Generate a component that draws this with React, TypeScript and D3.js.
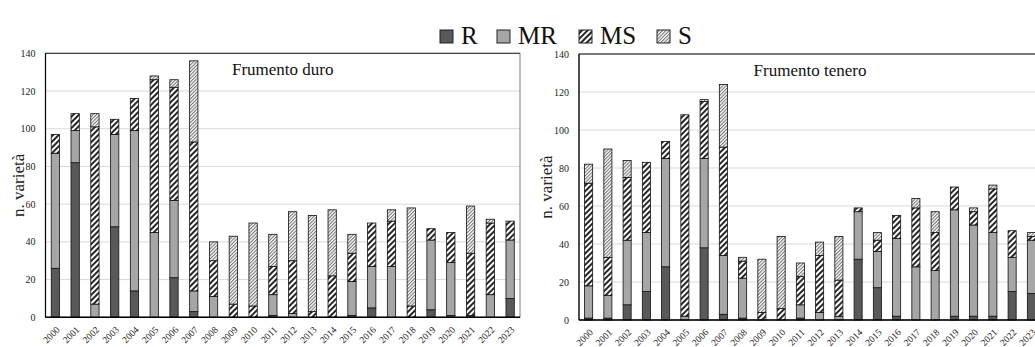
import React from "react";
import * as d3 from "d3";

// anni e classi di resistenza
const years = d3.range(2000, 2024).map(String);
const classes = ["R", "MR", "MS", "S"];

// Frumento duro
const duroR = [26, 82, 0, 48, 14, 0, 21, 3, 0, 0, 0, 1, 0, 0, 0, 1, 5, 0, 0, 4, 1, 1, 0, 10];
const duroMR = [61, 17, 7, 49, 85, 45, 41, 11, 11, 0, 0, 11, 2, 0, 0, 18, 22, 27, 0, 37, 28, 0, 12, 31];
const duroMS = [10, 9, 94, 8, 17, 81, 60, 79, 19, 7, 6, 15, 28, 3, 22, 15, 23, 24, 6, 6, 16, 33, 38, 10];
const duroS = [0, 0, 7, 0, 0, 2, 4, 43, 10, 36, 44, 17, 26, 51, 35, 10, 0, 6, 52, 0, 0, 25, 2, 0];

// Frumento tenero
const teneroR = [1, 1, 8, 15, 28, 0, 38, 3, 1, 0, 0, 1, 0, 0, 32, 17, 2, 0, 0, 2, 2, 2, 15, 14];
const teneroMR = [17, 12, 34, 31, 57, 2, 47, 31, 21, 0, 0, 7, 4, 2, 25, 19, 41, 28, 26, 56, 48, 44, 18, 28];
const teneroMS = [54, 20, 33, 37, 9, 106, 30, 57, 9, 4, 6, 15, 30, 19, 2, 6, 12, 31, 20, 12, 7, 23, 14, 2];
const teneroS = [10, 57, 9, 0, 0, 0, 1, 33, 2, 28, 38, 7, 7, 23, 0, 4, 0, 5, 11, 0, 2, 2, 0, 2];

const yTicks = [0, 20, 40, 60, 80, 100, 120, 140];

const fills: Record<string, string> = {
  R: "#595959",
  MR: "#a6a6a6",
  MS: "url(#pat-ms)",
  S: "url(#pat-s)",
};

const FONT = "'Liberation Serif', 'Times New Roman', serif";

function toRows(r: number[], mr: number[], ms: number[], s: number[]) {
  return years.map((y, i) => ({ year: y, R: r[i], MR: mr[i], MS: ms[i], S: s[i] }));
}

interface PanelProps {
  rows: { year: string; [k: string]: any }[];
  x0: number;
  x1: number;
  yTop: number;
  yBot: number;
  title: string;
  labelX: number;
}

const Panel: React.FC<PanelProps> = ({ rows, x0, x1, yTop, yBot, title, labelX }) => {
  const x = d3.scaleBand().domain(years).range([x0, x1]).paddingInner(0.58).paddingOuter(0.29);
  const y = d3.scaleLinear().domain([0, 140]).range([yBot, yTop]);
  const series = d3.stack<any>().keys(classes)(rows);
  const bw = x.bandwidth();

  return (
    <g>
      {/* griglia */}
      {yTicks.filter((t) => t > 0 && t < 140).map((t) => (
        <line key={t} x1={x0} x2={x1} y1={y(t)} y2={y(t)} stroke="#d9d9d9" strokeWidth={1} />
      ))}
      <rect x={x0} y={yTop} width={x1 - x0} height={yBot - yTop} fill="none" stroke="#7f7f7f" strokeWidth={1} />
      <line x1={x0} x2={x1} y1={yTop} y2={yTop} stroke="#333" strokeWidth={1} />

      {/* barre */}
      {series.map((s) => (
        <g key={s.key}>
          {s.map((d, i) =>
            d[1] - d[0] > 0 ? (
              <rect
                key={i}
                x={x(years[i])!}
                y={y(d[1])}
                width={bw}
                height={y(d[0]) - y(d[1])}
                fill={fills[s.key]}
                stroke="#111"
                strokeWidth={0.8}
              />
            ) : null
          )}
        </g>
      ))}

      {/* assi */}
      <line x1={x0} x2={x0} y1={yTop} y2={yBot} stroke="#000" strokeWidth={1.2} />
      <line x1={x0} x2={x1} y1={yBot} y2={yBot} stroke="#000" strokeWidth={1.4} />

      {yTicks.map((t) => (
        <text key={t} x={x0 - 10} y={y(t)} dy="0.35em" textAnchor="end" fontSize={10} fontFamily={FONT} fill="#222">
          {t}
        </text>
      ))}
      {years.map((yr) => {
        const cx = x(yr)! + bw / 2 + 5;
        const cy = yBot + 13;
        return (
          <text
            key={yr}
            x={cx}
            y={cy}
            textAnchor="end"
            fontSize={9.5}
            fontFamily={FONT}
            fill="#222"
            transform={`rotate(-45,${cx},${cy})`}
          >
            {yr}
          </text>
        );
      })}

      <text
        x={labelX}
        y={(yTop + yBot) / 2}
        transform={`rotate(-90,${labelX},${(yTop + yBot) / 2})`}
        textAnchor="middle"
        dy="0.35em"
        fontSize={17}
        fontFamily={FONT}
        fill="#222"
      >
        n. varietà
      </text>
      <text x={(x0 + x1) / 2} y={yTop + 22} textAnchor="middle" fontSize={17} fontFamily={FONT} fill="#111">
        {title}
      </text>
    </g>
  );
};

export default function App() {
  const legendX = [440, 497, 579, 657];

  return (
    <div style={{ position: "absolute", left: 0, top: 0 }}>
      <svg width={1035} height={347} style={{ display: "block", background: "#fff" }}>
        <defs>
          <pattern id="pat-ms" patternUnits="userSpaceOnUse" width={4} height={4} patternTransform="rotate(45)">
            <rect width={4} height={4} fill="#fff" />
            <line x1={1} y1={0} x2={1} y2={4} stroke="#000" strokeWidth={1.7} />
          </pattern>
          <pattern id="pat-s" patternUnits="userSpaceOnUse" width={2.4} height={2.4} patternTransform="rotate(45)">
            <rect width={2.4} height={2.4} fill="#fff" />
            <line x1={0.6} y1={0} x2={0.6} y2={2.4} stroke="#444" strokeWidth={0.8} />
          </pattern>
        </defs>

        {/* legenda */}
        {classes.map((c, i) => (
          <g key={c}>
            <rect x={legendX[i]} y={30} width={13} height={13} fill={fills[c]} stroke="#222" strokeWidth={1} />
            <text x={legendX[i] + 21} y={44} fontSize={25} fontFamily={FONT} fill="#111">
              {c}
            </text>
          </g>
        ))}

        <Panel
          rows={toRows(duroR, duroMR, duroMS, duroS)}
          x0={45.5}
          x1={520}
          yTop={53.3}
          yBot={317.3}
          title="Frumento duro"
          labelX={18}
        />
        <Panel
          rows={toRows(teneroR, teneroMR, teneroMS, teneroS)}
          x0={579}
          x1={1041}
          yTop={54}
          yBot={320}
          title="Frumento tenero"
          labelX={546}
        />
      </svg>
    </div>
  );
}
